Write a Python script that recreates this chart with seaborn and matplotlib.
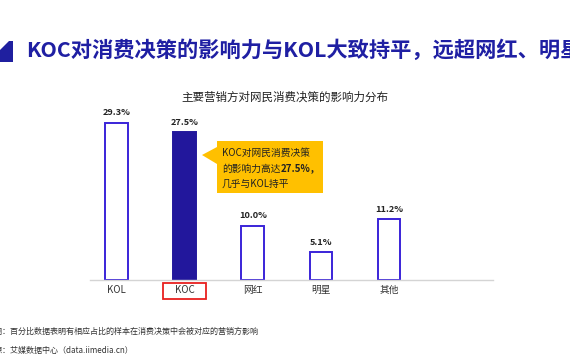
import seaborn as sns
import matplotlib.pyplot as plt
from matplotlib.patches import Polygon, Rectangle

# data
categories = ["KOL", "KOC", "网红", "明星", "其他"]
values = [29.3, 27.5, 10.0, 5.1, 11.2]
value_labels = ["29.3%", "27.5%", "10.0%", "5.1%", "11.2%"]
highlight = "KOC"

title = "KOC对消费决策的影响力与KOL大致持平，远超网红、明星"
subtitle = "主要营销方对网民消费决策的影响力分布"
note1 = "说明：百分比数据表明有相应占比的样本在消费决策中会被对应的营销方影响"
note2 = "来源：艾媒数据中心（data.iimedia.cn）"
callout = ["KOC对网民消费决策", "的影响力高达", "27.5%，", "几乎与KOL持平"]

sns.set_theme(style="white")
plt.rcParams["font.family"] = ["Noto Sans CJK SC", "DejaVu Sans"]

W, H = 570, 360
fig = plt.figure(figsize=(5.7, 3.6), dpi=100)
fig.patch.set_facecolor("white")


def fx(x):
    return x / W


def fy(y):
    return 1 - y / H


ax = fig.add_axes([fx(90), fy(279.5), fx(493) - fx(90), (279.5 - 100) / H])

edge_blue = "#3a24d8"
dark_blue = "#22179c"
faces = [dark_blue if c == highlight else "white" for c in categories]
sns.barplot(x=categories, y=values, hue=categories, palette=faces,
            saturation=1, width=0.33, edgecolor=edge_blue, linewidth=1.4,
            legend=False, ax=ax)
for p, c in zip(ax.patches, categories):
    if c == highlight:
        p.set_edgecolor(dark_blue)

ax.set_xlim(-0.39, 5.53)
ax.set_ylim(0, 33.5)
ax.set_xlabel("")
ax.set_ylabel("")
ax.set_yticks([])
for s in ["top", "right", "left"]:
    ax.spines[s].set_visible(False)
ax.spines["bottom"].set_color("#d4d4d4")
ax.spines["bottom"].set_linewidth(1)
ax.tick_params(axis="x", length=0, pad=4, labelsize=7, labelcolor="#333333")

for i, (v, lab) in enumerate(zip(values, value_labels)):
    ax.annotate(lab, (i, v), xytext=(0, 4), textcoords="offset points",
                ha="center", va="bottom", fontsize=6.6, fontweight="bold",
                color="#222222")

# red frame round highlighted tick label
fig.patches.append(Rectangle((fx(163), fy(298.5)), fx(42.5), (298.5 - 282.5) / H,
                             transform=fig.transFigure, fill=False,
                             edgecolor="#e8201f", linewidth=1.3))

# headline and icon
fig.patches.append(Polygon([(fx(0), fy(62)), (fx(0), fy(50)), (fx(9), fy(41)),
                            (fx(13), fy(41)), (fx(13), fy(62))],
                           closed=True, transform=fig.transFigure,
                           facecolor="#1f1f9f", edgecolor="none"))
fig.text(fx(26), fy(50), title, fontsize=15.3, fontweight="bold",
         color="#1f1fa3", ha="left", va="center")
fig.text(fx(285), fy(97), subtitle, fontsize=8.3, color="#222222",
         ha="center", va="center")

# callout box
box = [(fx(217), fy(141)), (fx(323), fy(141)), (fx(323), fy(193)),
       (fx(217), fy(193)), (fx(217), fy(164)), (fx(202), fy(155)),
       (fx(217), fy(147))]
fig.patches.append(Polygon(box, closed=True, transform=fig.transFigure,
                           facecolor="#ffc000", edgecolor="none"))
fig.text(fx(222), fy(153), callout[0], fontsize=7, color="#222222", va="center")
t1 = fig.text(fx(222), fy(168.5), callout[1], fontsize=7, color="#222222",
              va="center")
fig.canvas.draw()
bb = t1.get_window_extent(renderer=fig.canvas.get_renderer())
fig.text(bb.x1 / fig.dpi / fig.get_figwidth(), fy(168.5), callout[2],
         fontsize=7, fontweight="bold", color="#222222", va="center")
fig.text(fx(222), fy(184), callout[3], fontsize=7, color="#222222", va="center")

# footnotes
fig.text(fx(-13), fy(331), note1, fontsize=5.8, color="#333333", va="center")
fig.text(fx(-13), fy(350), note2, fontsize=5.8, color="#333333", va="center")

fig.savefig("out.png", dpi=100, facecolor="white")
